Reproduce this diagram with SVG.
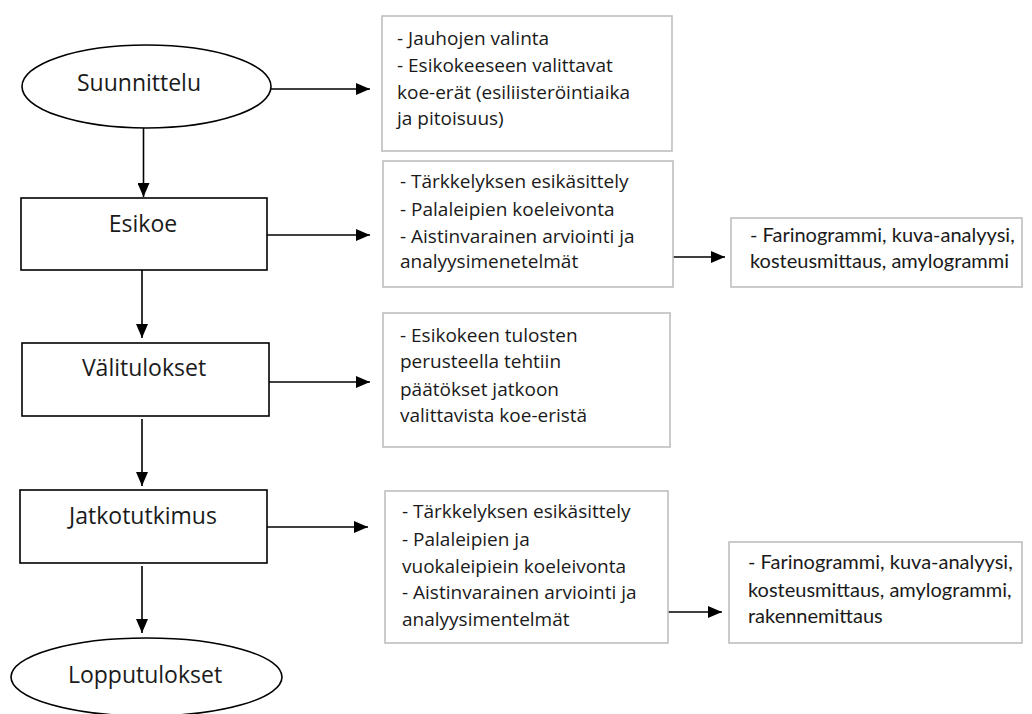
<svg xmlns="http://www.w3.org/2000/svg" width="1032" height="714" viewBox="0 0 1032 714">
<style>
.node{fill:#fff;stroke:#000;stroke-width:1.6}
.note{fill:#fff;stroke:#bfbfbf;stroke-width:1.6}
.lbl{font-family:"Open Sans","Noto Sans",sans-serif;font-size:23px;fill:#1a1a1a;text-anchor:middle}
.txt{font-family:"Open Sans","Noto Sans",sans-serif;font-size:19px;fill:#1a1a1a}
.txc{font-family:Lato,"Open Sans",sans-serif;font-size:20px;fill:#1a1a1a}
.con{stroke:#000;stroke-width:1.6;fill:none;marker-end:url(#ah)}
</style>
<defs>
<marker id="ah" viewBox="0 0 14 12" refX="14" refY="6" markerWidth="14" markerHeight="12" markerUnits="userSpaceOnUse" orient="auto">
<path d="M0,0 L14,6 L0,12 Z" fill="#000"/>
</marker>
</defs>
<rect width="1032" height="714" fill="#fff"/>
<g id="connectors">
<line class="con" x1="271" y1="89" x2="370" y2="89"/>
<line class="con" x1="143.5" y1="128" x2="143.5" y2="197"/>
<line class="con" x1="267" y1="235" x2="370" y2="235"/>
<line class="con" x1="142" y1="270" x2="142" y2="338"/>
<line class="con" x1="269" y1="382" x2="370" y2="382"/>
<line class="con" x1="142" y1="419" x2="142" y2="486"/>
<line class="con" x1="267" y1="527" x2="368" y2="527"/>
<line class="con" x1="142" y1="566" x2="142" y2="633"/>
<line class="con" x1="673" y1="257" x2="725" y2="257"/>
<line class="con" x1="668" y1="612" x2="722" y2="612"/>
</g>
<g id="suunnittelu">
<ellipse class="node" cx="146.5" cy="86.5" rx="124.5" ry="41.5"/>
<text class="lbl" x="139" y="91">Suunnittelu</text>
</g>
<g id="esikoe">
<rect class="node" x="21" y="198" width="246" height="72"/>
<text class="lbl" x="143" y="232">Esikoe</text>
</g>
<g id="valitulokset">
<rect class="node" x="22" y="343" width="247" height="73"/>
<text class="lbl" x="144" y="376">Välitulokset</text>
</g>
<g id="jatkotutkimus">
<rect class="node" x="20" y="490" width="247" height="73"/>
<text class="lbl" x="143" y="524">Jatkotutkimus</text>
</g>
<g id="lopputulokset">
<ellipse class="node" cx="146.5" cy="677" rx="135.5" ry="39"/>
<text class="lbl" x="145" y="683">Lopputulokset</text>
</g>
<g id="note1">
<rect class="note" x="382" y="16" width="290" height="135"/>
<text class="txt"><tspan x="397" y="45">- Jauhojen valinta</tspan><tspan x="397" y="72">- Esikokeeseen valittavat</tspan><tspan x="397" y="99">koe-erät (esiliisteröintiaika</tspan><tspan x="397" y="125">ja pitoisuus)</tspan></text>
</g>
<g id="note2">
<rect class="note" x="383" y="161" width="290" height="126"/>
<text class="txt"><tspan x="400" y="188">- Tärkkelyksen esikäsittely</tspan><tspan x="400" y="216">- Palaleipien koeleivonta</tspan><tspan x="400" y="243">- Aistinvarainen arviointi ja</tspan><tspan x="400" y="268">analyysimenetelmät</tspan></text>
</g>
<g id="note3">
<rect class="note" x="731" y="218" width="291" height="69"/>
<text class="txc"><tspan x="750" y="242">- Farinogrammi, kuva-analyysi,</tspan><tspan x="750" y="268">kosteusmittaus, amylogrammi</tspan></text>
</g>
<g id="note4">
<rect class="note" x="383" y="313" width="287" height="134"/>
<text class="txt"><tspan x="400" y="342">-  Esikokeen tulosten</tspan><tspan x="400" y="368">perusteella tehtiin</tspan><tspan x="400" y="396">päätökset jatkoon</tspan><tspan x="400" y="422">valittavista koe-eristä</tspan></text>
</g>
<g id="note5">
<rect class="note" x="385" y="491" width="283" height="152"/>
<text class="txt"><tspan x="402" y="518">- Tärkkelyksen esikäsittely</tspan><tspan x="402" y="546">- Palaleipien ja</tspan><tspan x="402" y="573">vuokaleipiein koeleivonta</tspan><tspan x="402" y="599">- Aistinvarainen arviointi ja</tspan><tspan x="402" y="626">analyysimentelmät</tspan></text>
</g>
<g id="note6">
<rect class="note" x="729" y="542" width="293" height="101"/>
<text class="txc"><tspan x="748" y="569">- Farinogrammi, kuva-analyysi,</tspan><tspan x="748" y="597">kosteusmittaus, amylogrammi,</tspan><tspan x="748" y="623">rakennemittaus</tspan></text>
</g>
</svg>
